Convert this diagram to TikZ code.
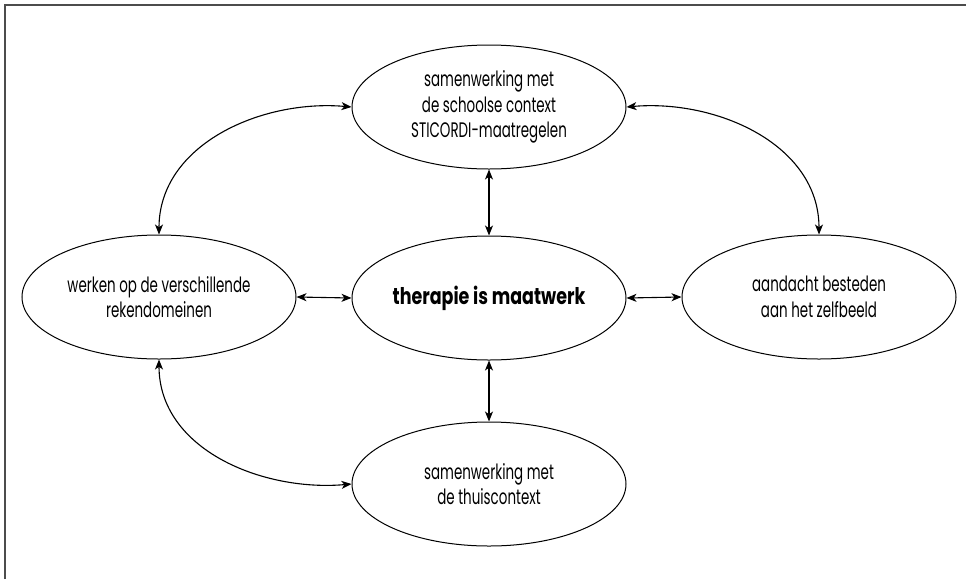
\documentclass[tikz,border=0pt]{standalone}
\usepackage{fontspec}
\setmainfont{Poppins}[FakeStretch=0.64]
\newfontfamily\boldfam{Poppins}[FakeStretch=0.76]
\usetikzlibrary{shapes.geometric,arrows.meta}
\begin{document}
\begin{tikzpicture}[x=1pt,y=-1pt,
  bubble/.style={ellipse,draw,line width=1pt,minimum width=274pt,minimum height=124pt,inner sep=0pt,align=center,font=\fontsize{21}{25.5}\selectfont},
  link/.style={line width=1.1pt,{Stealth[length=10pt,width=8pt,inset=2.8pt]}-{Stealth[length=10pt,width=8pt,inset=2.8pt]}},
  frame/.style={line width=1.6pt,black!70}]
\useasboundingbox (0,0) rectangle (966,579);
\draw[frame] (5,579) coordinate (fb) -- (5,5) coordinate (fc) -- (966,5) coordinate (fr);
\node[bubble] (top) at (489,107) {samenwerking met\\de schoolse context\\STICORDI-maatregelen};
\node[bubble] (mid) at (489,298) {\boldfam\bfseries\fontsize{23}{28}\selectfont therapie is maatwerk};
\node[bubble] (left) at (159,297) {werken op de verschillende\\rekendomeinen};
\node[bubble] (right) at (819,297) {aandacht besteden\\aan het zelfbeeld};
\node[bubble] (bot) at (489,484) {samenwerking met\\de thuiscontext};
\draw[link] (top.south) -- (mid.north);
\draw[link] (bot.north) -- (mid.south);
\draw[link] (left.east) -- (mid.west);
\draw[link] (right.west) -- (mid.east);
\draw[link] (top.west) to[out=175,in=90] (left.north);
\draw[link] (top.east) to[out=5,in=90] (right.north);
\draw[link] (left.south) to[out=-90,in=185] (bot.west);
\end{tikzpicture}
\end{document}
